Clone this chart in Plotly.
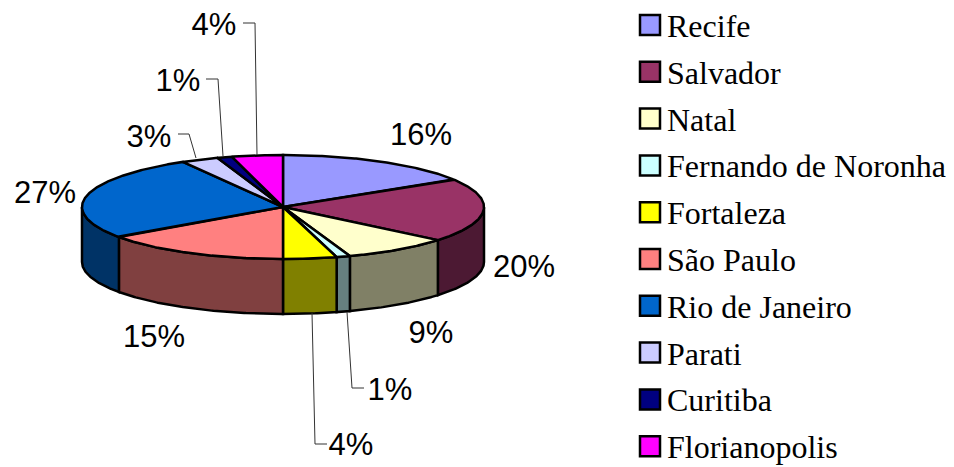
import numpy as np
import plotly.graph_objects as go

cities = ["Recife", "Salvador", "Natal", "Fernando de Noronha", "Fortaleza",
          "São Paulo", "Rio de Janeiro", "Parati", "Curitiba", "Florianopolis"]
shares = [16.1, 19.9, 8.6, 1.1, 4.3, 15.2, 26.5, 3.0, 1.2, 4.1]
colors = ["#9999FF", "#993366", "#FFFFCC", "#CCFFFF", "#FFFF00",
          "#FF8080", "#0066CC", "#CCCCFF", "#000080", "#FF00FF"]
side_colors = ["#4C4C80", "#4C1933", "#808066", "#668080", "#808000",
               "#804040", "#003366", "#666680", "#000040", "#800080"]
pct_labels = ["16%", "20%", "9%", "1%", "4%", "15%", "27%", "3%", "1%", "4%"]

# pie geometry in pixels, the axes run 1:1 with the page
CX, CY, RX, RY, DEPTH = 283, 207, 201, 52, 55
LEGEND_X, LEGEND_TEXT_X, LEGEND_Y0, LEGEND_STEP = 650, 668, 25, 46.8
label_x = [421, 524, 431, 390, 351, 154, 45, 149, 178, 214]
label_y = [137, 269, 335, 392, 447, 339, 195, 139, 83, 27]
leaders = {
    3: ([364, 352, 347], [388, 388, 312]),
    4: ([327, 315, 312], [444, 444, 313]),
    7: ([178, 189, 196], [134, 134, 158]),
    8: ([206, 218, 223], [79, 79, 156]),
    9: ([243, 255, 257], [23, 23, 155]),
}

LINE_W = 2.5
PAGE_MARGIN = 8  # the page body keeps its default margin


def arc(a0, a1, dy=0):
    t = np.radians(np.linspace(a0, a1, max(int(abs(a1 - a0)) * 2, 2) + 1))
    return CX + RX * np.sin(t), CY - RY * np.cos(t) + dy


edges = np.cumsum([0] + shares) / sum(shares) * 360
fig = go.Figure()

# side wall, only the front half (90-270 deg from 12 o'clock) can be seen
for i in range(len(cities)):
    a0, a1 = max(edges[i], 90), min(edges[i + 1], 270)
    if a1 <= a0:
        continue
    x_top, y_top = arc(a0, a1)
    x_bot, y_bot = arc(a1, a0, DEPTH)
    fig.add_trace(go.Scatter(
        x=np.r_[x_top, x_bot, x_top[0]], y=np.r_[y_top, y_bot, y_top[0]],
        mode="lines", fill="toself", fillcolor=side_colors[i],
        line=dict(color="black", width=LINE_W), hoverinfo="skip",
    ))

# top face
for i, city in enumerate(cities):
    x_arc, y_arc = arc(edges[i], edges[i + 1])
    fig.add_trace(go.Scatter(
        x=np.r_[CX, x_arc, CX], y=np.r_[CY, y_arc, CY],
        mode="lines", fill="toself", fillcolor=colors[i],
        line=dict(color="black", width=LINE_W), name=city,
        text=pct_labels[i], hoverinfo="name+text",
    ))

for lx, ly in leaders.values():
    fig.add_trace(go.Scatter(x=lx, y=ly, mode="lines",
                             line=dict(color="#333333", width=1), hoverinfo="skip"))

fig.add_trace(go.Scatter(
    x=label_x, y=label_y, mode="text", text=pct_labels, textposition="middle center",
    textfont=dict(family="Liberation Sans", size=31, color="black"), hoverinfo="skip",
    cliponaxis=False,
))

legend_y = [LEGEND_Y0 + i * LEGEND_STEP for i in range(len(cities))]
fig.add_trace(go.Scatter(
    x=[LEGEND_X] * len(cities), y=legend_y, mode="markers", hoverinfo="skip",
    marker=dict(symbol="square", size=20, color=colors, line=dict(color="black", width=2.5)),
))
for city, y in zip(cities, legend_y):
    fig.add_annotation(x=LEGEND_TEXT_X, y=y, text=city, showarrow=False,
                       xanchor="left", yanchor="middle", xshift=-2, yshift=-1, borderpad=0,
                       font=dict(family="Liberation Serif", size=32, color="black"))

fig.update_layout(
    width=954 - PAGE_MARGIN, height=467 - PAGE_MARGIN, showlegend=False,
    paper_bgcolor="white", plot_bgcolor="white",
    margin=dict(l=0, r=0, t=0, b=0),
)
fig.update_xaxes(range=[PAGE_MARGIN, 954], visible=False)
fig.update_yaxes(range=[467, PAGE_MARGIN], visible=False)

fig.write_html("out.html")
